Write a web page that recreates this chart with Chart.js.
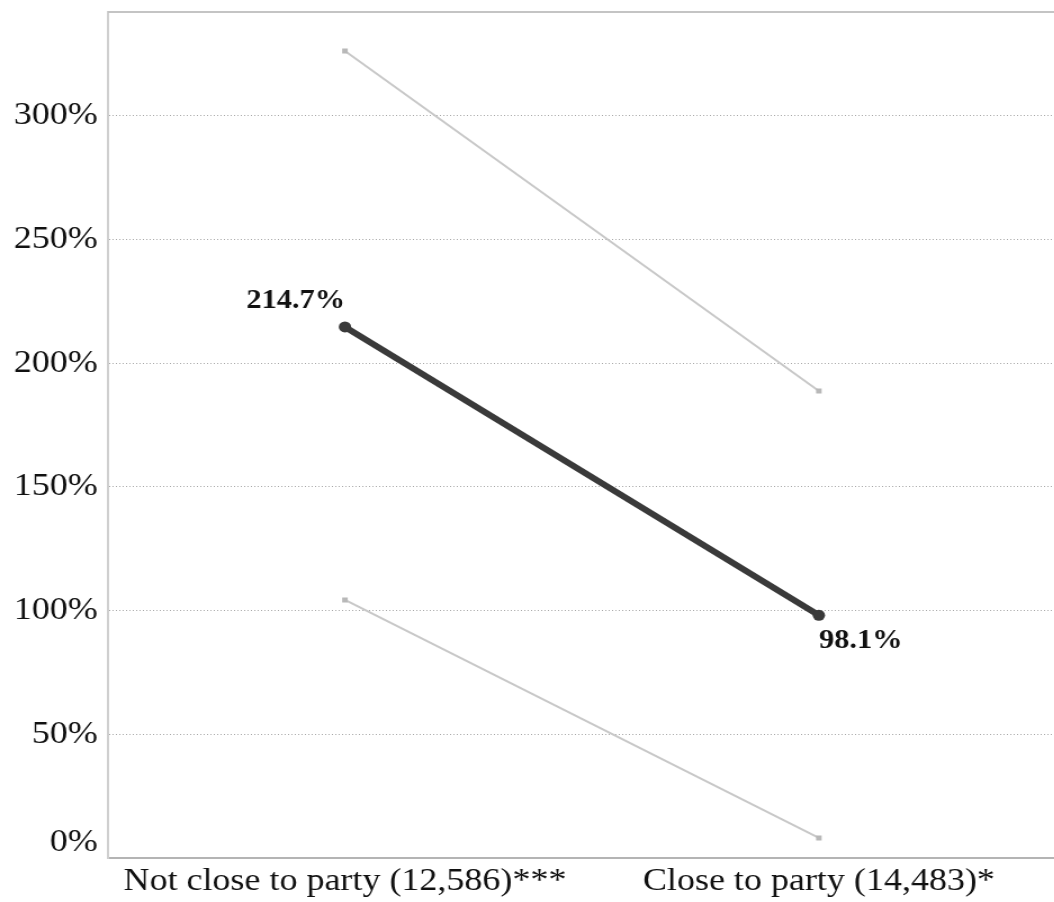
<!DOCTYPE html>
<html>
<head>
<meta charset="utf-8">
<script src="https://cdn.jsdelivr.net/npm/chart.js@4.4.1/dist/chart.umd.min.js"></script>
<style>
  html, body { margin: 0; padding: 0; background: #fff; overflow: hidden; }
  #wrap { width: 1054px; height: 902px; overflow: hidden; }
  #c { display: block; width: 944px; height: 902px; transform: scaleX(1.125); transform-origin: 0 0; }
</style>
</head>
<body>
<div id="wrap"><canvas id="c" width="944" height="902"></canvas></div>
<script>
// Groups compared on the x axis (sample size in parentheses)
const categories = ['Not close to party (12,586)***', 'Close to party (14,483)*'];
// Estimated percent change with its upper and lower bounds
const estimate = [214.7, 98.1];
const upperBound = [326.2, 188.8];
const lowerBound = [104.3, 8.1];
// Labelled y-axis ticks
const yTicks = [0, 50, 100, 150, 200, 250, 300];
const yMax = 342;

const serif = "'Liberation Serif', 'Times New Roman', serif";

// Value labels next to the estimate points
const valueLabels = {
  id: 'valueLabels',
  afterDatasetsDraw(chart) {
    const meta = chart.getDatasetMeta(2);
    const ctx = chart.ctx;
    ctx.save();
    ctx.font = `bold 27px ${serif}`;
    ctx.fillStyle = '#111';
    ctx.textBaseline = 'middle';
    meta.data.forEach((pt, i) => {
      const txt = estimate[i].toFixed(1) + '%';
      if (i === 0) {
        ctx.textAlign = 'right';
        ctx.fillText(txt, pt.x, pt.y - 26);
      } else {
        ctx.textAlign = 'left';
        ctx.fillText(txt, pt.x, pt.y + 26);
      }
    });
    ctx.restore();
  }
};

// Frame line along the top of the plot area
const topFrame = {
  id: 'topFrame',
  beforeDatasetsDraw(chart) {
    const { ctx, chartArea } = chart;
    ctx.save();
    ctx.strokeStyle = '#c4c4c4';
    ctx.lineWidth = 2;
    ctx.beginPath();
    ctx.moveTo(chartArea.left, chartArea.top);
    ctx.lineTo(chartArea.right, chartArea.top);
    ctx.stroke();
    ctx.restore();
  }
};

new Chart(document.getElementById('c'), {
  type: 'line',
  data: {
    labels: categories,
    datasets: [
      {
        data: upperBound,
        borderColor: '#c8c8c8',
        backgroundColor: '#b8b8b8',
        borderWidth: 2,
        pointRadius: 3.5,
        pointStyle: 'rect',
        pointBorderWidth: 0
      },
      {
        data: lowerBound,
        borderColor: '#c8c8c8',
        backgroundColor: '#b8b8b8',
        borderWidth: 2,
        pointRadius: 3.5,
        pointStyle: 'rect',
        pointBorderWidth: 0
      },
      {
        data: estimate,
        borderColor: '#3a3a3a',
        backgroundColor: '#3a3a3a',
        borderWidth: 6,
        pointRadius: 5.5,
        pointBorderWidth: 0
      }
    ]
  },
  options: {
    responsive: false,
    animation: false,
    devicePixelRatio: 1,
    layout: { padding: { left: 0, right: 0, top: 12, bottom: 0 } },
    plugins: {
      legend: { display: false },
      tooltip: { enabled: false },
      title: { display: false }
    },
    scales: {
      x: {
        offset: true,
        grid: { display: false, drawTicks: false },
        border: { display: true, color: '#b4b4b4', width: 2 },
        ticks: {
          color: '#111',
          font: { family: serif, size: 32 },
          padding: 4,
          maxRotation: 0,
          autoSkip: false
        },
        afterFit(scale) { scale.height = 44; scale.paddingLeft = 0; scale.paddingRight = 0; }
      },
      y: {
        min: 0,
        max: yMax,
        grid: {
          color: '#a8a8a8',
          lineWidth: 1,
          drawTicks: false
        },
        // dotted gridlines, solid axis line
        border: { display: true, color: '#cfcfcf', width: 2, dash: [1, 2] },
        ticks: {
          stepSize: 50,
          color: '#111',
          font: { family: serif, size: 32, lineHeight: 0.95 },
          padding: 9,
          // the 0% label sits just above the x axis line
          callback: (v) => (v === 0 ? ['0%', ''] : v + '%')
        },
        afterBuildTicks(scale) {
          scale.ticks = yTicks.map(v => ({ value: v }));
        },
        afterFit(scale) { scale.width = 96; scale.paddingTop = 0; scale.paddingBottom = 0; }
      }
    }
  },
  plugins: [topFrame, valueLabels]
});
</script>
</body>
</html>
